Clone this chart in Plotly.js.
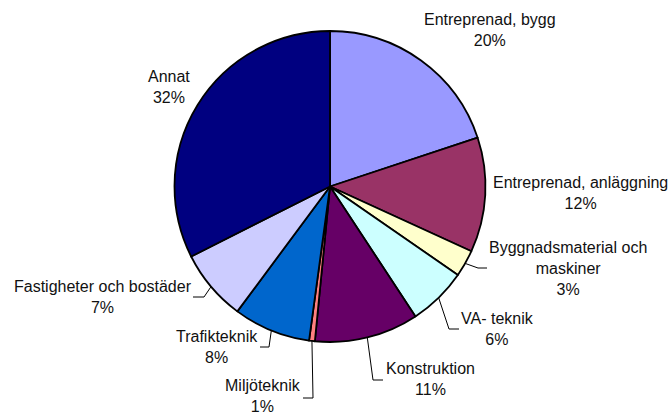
<!DOCTYPE html>
<html>
<head>
<meta charset="utf-8">
<script src="https://cdn.plot.ly/plotly-3.0.1.min.js"></script>
<style>html,body{margin:0;padding:0;background:#fff;}#chart{width:670px;height:414px;}</style>
</head>
<body>
<div id="chart"></div>
<script>
const categories = ["Entreprenad, bygg", "Entreprenad, anläggning", "Byggnadsmaterial och<br>maskiner", "VA- teknik", "Konstruktion", "Miljöteknik", "Trafikteknik", "Fastigheter och bostäder", "Annat"];
const shares = [19.9, 11.9, 2.8, 6.1, 10.8, 0.6, 8.0, 7.4, 32.4];
const colors = ["#9999FF", "#993366", "#FFFFCC", "#CCFFFF", "#660066", "#FF8080", "#0066CC", "#CCCCFF", "#000080"];

const W = 670, H = 414;
const CX = 330, CY = 186.5, R = 155.5;
// label block centres (px) and leader-line elbows (px)
const labelPos = [[490,30.5],[580,192.5],[568,268],[497,329],[430,379],[263,395.5],[217,347],[103,296.5],[169,87]];
const leaders = [null, null, [[478,268],[487,268]], [[449,329],[459,329]], [[373,380],[383,380]], [[313,398],[303,398]], [[269,347],[260,347]], [[204,297],[193,297]], null];

const total = shares.reduce((a,b)=>a+b,0);
const px = x => x / W, py = y => 1 - y / H;

const annotations = [], shapes = [];
let cum = 0;
shares.forEach((v,i)=>{
  const mid = (cum + v/2) / total * 2*Math.PI;
  cum += v;
  const pct = Math.round(v / total * 100);
  annotations.push({
    xref:'paper', yref:'paper', x: px(labelPos[i][0]), y: py(labelPos[i][1]),
    xanchor:'center', yanchor:'middle', showarrow:false, align:'center',
    text: categories[i] + '<br>' + pct + '%',
    font:{family:'Liberation Sans, Arial, sans-serif', size:16, color:'#111'}
  });
  if (leaders[i]) {
    const sx = CX + R*Math.sin(mid), sy = CY - R*Math.cos(mid);
    const c = leaders[i][0], e = leaders[i][1];
    shapes.push({type:'path', xref:'paper', yref:'paper',
      path:`M ${px(sx)} ${py(sy)} L ${px(c[0])} ${py(c[1])} L ${px(e[0])} ${py(e[1])}`,
      line:{color:'#000', width:1}});
  }
});

const data = [{
  type:'pie', labels: categories, values: shares, sort:false, direction:'clockwise', rotation:0,
  marker:{colors: colors, line:{color:'#000', width:1.8}},
  textinfo:'none', hoverinfo:'none',
  domain:{x:[(CX-R)/W, (CX+R)/W], y:[1-(CY+R)/H, 1-(CY-R)/H]}
}];
const layout = {
  width:W, height:H, margin:{l:0,r:0,t:0,b:0}, showlegend:false,
  paper_bgcolor:'#fff', plot_bgcolor:'#fff',
  annotations: annotations, shapes: shapes
};
Plotly.newPlot('chart', data, layout, {displayModeBar:false, staticPlot:true});
</script>
</body>
</html>
